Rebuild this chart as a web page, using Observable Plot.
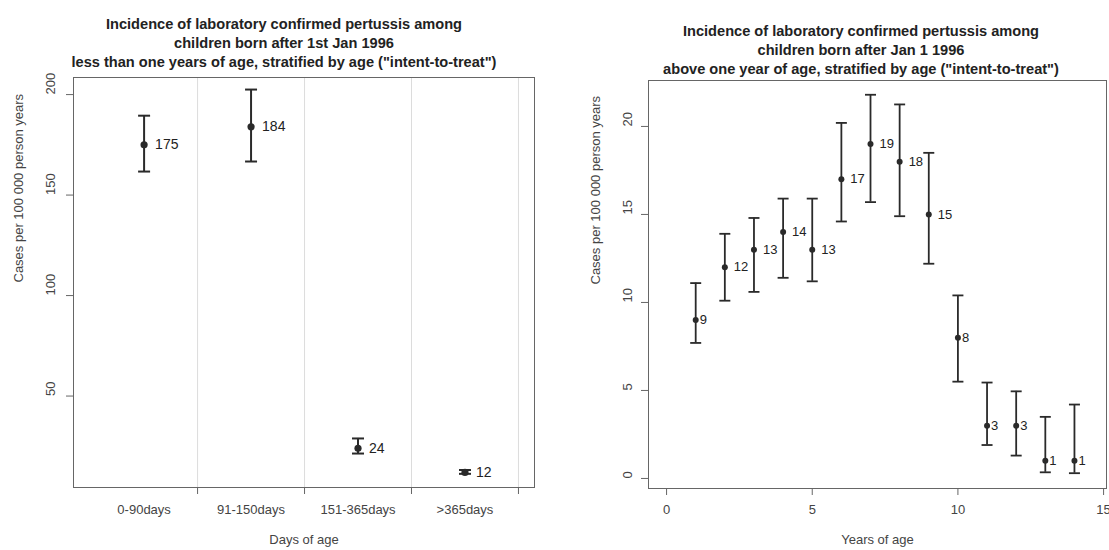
<!DOCTYPE html>
<html>
<head>
<meta charset="utf-8">
<script src="https://cdn.jsdelivr.net/npm/d3@7"></script>
<script src="https://cdn.jsdelivr.net/npm/@observablehq/plot@0.6"></script>
<style>
  html, body { margin: 0; padding: 0; background: #fff; overflow: hidden; }
  #wrap { position: relative; width: 1109px; height: 550px; font-family: "Liberation Sans", Arial, sans-serif; }
  .panel { position: absolute; top: 0; }
  .title { position: absolute; width: 600px; text-align: center; font-weight: bold; font-size: 14.6px; line-height: 19px; color: #222; }
</style>
</head>
<body>
<div id="wrap">
  <div class="panel" id="left" style="left:0px"></div>
  <div class="panel" id="right" style="left:555px"></div>
  <div class="title" id="t1" style="left:-16px; top:15px"></div>
  <div class="title" id="t2" style="left:561px; top:22px"></div>
</div>
<script>
// ---------- data: left panel (< 1 year, by days of age) ----------
const leftCats = ["0-90days", "91-150days", "151-365days", ">365days"];
const leftRate = [175, 184, 24, 12];
const leftLo   = [161.7, 166.7, 21.4, 11.3];
const leftHi   = [189.5, 202.5, 28.9, 13.2];
const leftYTicks = [50, 100, 150, 200];
const leftXTicks = [1, 2, 3, 4];

// ---------- data: right panel (> 1 year, by years of age) ----------
const rightAge  = [1, 2, 3, 4, 5, 6, 7, 8, 9, 10, 11, 12, 13, 14];
const rightRate = [9, 12, 13, 14, 13, 17, 19, 18, 15, 8, 3, 3, 1, 1];
const rightLo   = [7.7, 10.1, 10.6, 11.4, 11.2, 14.6, 15.7, 14.9, 12.2, 5.5, 1.9, 1.3, 0.35, 0.3];
const rightHi   = [11.1, 13.9, 14.8, 15.9, 15.9, 20.2, 21.8, 21.25, 18.5, 10.4, 5.45, 4.95, 3.5, 4.2];
const rightXTicks = [0, 5, 10, 15];
const rightYTicks = [0, 5, 10, 15, 20];

const titleLeft = ["Incidence of laboratory confirmed pertussis among",
  "children born after 1st Jan 1996",
  "less than one years of age, stratified by age (\"intent-to-treat\")"];
const titleRight = ["Incidence of laboratory confirmed pertussis among",
  "children born after Jan 1 1996",
  "above one year of age, stratified by age (\"intent-to-treat\")"];
const yLabel = "Cases per 100 000 person years";

document.getElementById("t1").innerHTML = titleLeft.map(s => s.replace(/&/g,"&amp;").replace(/</g,"&lt;")).join("<br>");
document.getElementById("t2").innerHTML = titleRight.map(s => s.replace(/&/g,"&amp;").replace(/</g,"&lt;")).join("<br>");

// horizontal cap symbol for error bars
const capSymbol = {
  draw(ctx, size) {
    const r = Math.sqrt(size / Math.PI);
    ctx.moveTo(-r, 0);
    ctx.lineTo(r, 0);
  }
};

const ink = "#2a2a2a";
const tickInk = "#444";

// ---------- left panel ----------
const L = leftCats.map((c, i) => ({cat: c, x: i + 0.5, rate: leftRate[i], lo: leftLo[i], hi: leftHi[i]}));
const leftPlot = Plot.plot({
  width: 555, height: 550,
  marginLeft: 73, marginRight: 21, marginTop: 77, marginBottom: 63,
  style: {fontFamily: "Liberation Sans, Arial, sans-serif", background: "transparent", overflow: "visible"},
  x: {type: "linear", domain: [-0.16, 4.15], axis: null},
  y: {type: "linear", domain: [4.5, 208.5], axis: null},
  marks: [
    Plot.ruleX(leftXTicks, {stroke: "#dcdcdc", strokeWidth: 1}),
    Plot.frame({stroke: "#666", strokeWidth: 1}),
    Plot.axisY({ticks: leftYTicks, tickSize: 7, tickFormat: () => "", stroke: "#666", label: null}),
    Plot.axisX({ticks: leftXTicks, tickSize: 7, tickFormat: () => "", stroke: "#666", label: null}),
    Plot.text(leftYTicks, {y: d => d, text: d => String(d), frameAnchor: "left", dx: -23, rotate: -90, fontSize: 13, fill: tickInk}),
    Plot.text(L, {x: "x", text: "cat", frameAnchor: "bottom", dy: 26, fontSize: 13, fill: tickInk}),
    Plot.text(["Days of age"], {frameAnchor: "bottom", dy: 56, fontSize: 13, fill: tickInk}),
    Plot.text([yLabel], {frameAnchor: "left", dx: -55, rotate: -90, fontSize: 13, fill: tickInk}),
    Plot.ruleX(L, {x: "x", y1: "lo", y2: "hi", stroke: ink, strokeWidth: 2}),
    Plot.dot(L, {x: "x", y: "lo", symbol: capSymbol, r: 6, stroke: ink, strokeWidth: 2, fill: "none"}),
    Plot.dot(L, {x: "x", y: "hi", symbol: capSymbol, r: 6, stroke: ink, strokeWidth: 2, fill: "none"}),
    Plot.dot(L, {x: "x", y: "rate", r: 3.6, fill: ink, stroke: "none"}),
    Plot.text(L, {x: "x", y: "rate", text: d => String(d.rate), textAnchor: "start", dx: 11, fontSize: 14, fill: "#222"})
  ]
});
document.getElementById("left").appendChild(leftPlot);

// ---------- right panel ----------
const R = rightAge.map((a, i) => ({age: a, rate: rightRate[i], lo: rightLo[i], hi: rightHi[i]}));
const rightPlot = Plot.plot({
  width: 554, height: 550,
  marginLeft: 93, marginRight: 3, marginTop: 80, marginBottom: 62,
  style: {fontFamily: "Liberation Sans, Arial, sans-serif", background: "transparent", overflow: "visible"},
  x: {type: "linear", domain: [-0.62, 15.1], axis: null},
  y: {type: "linear", domain: [-0.57, 22.61], axis: null},
  marks: [
    Plot.frame({stroke: "#666", strokeWidth: 1}),
    Plot.axisY({ticks: rightYTicks, tickSize: 7, tickFormat: () => "", stroke: "#666", label: null}),
    Plot.axisX({ticks: rightXTicks, tickSize: 7, tickFormat: () => "", stroke: "#666", label: null}),
    Plot.text(rightYTicks, {y: d => d, text: d => String(d), frameAnchor: "left", dx: -21, rotate: -90, fontSize: 13, fill: tickInk}),
    Plot.text(rightXTicks, {x: d => d, text: d => String(d), frameAnchor: "bottom", dy: 25, fontSize: 13, fill: tickInk}),
    Plot.text(["Years of age"], {frameAnchor: "bottom", dy: 55, fontSize: 13, fill: tickInk}),
    Plot.text([yLabel], {frameAnchor: "left", dx: -53, rotate: -90, fontSize: 13, fill: tickInk}),
    Plot.ruleX(R, {x: "age", y1: "lo", y2: "hi", stroke: ink, strokeWidth: 1.8}),
    Plot.dot(R, {x: "age", y: "lo", symbol: capSymbol, r: 5.5, stroke: ink, strokeWidth: 1.8, fill: "none"}),
    Plot.dot(R, {x: "age", y: "hi", symbol: capSymbol, r: 5.5, stroke: ink, strokeWidth: 1.8, fill: "none"}),
    Plot.dot(R, {x: "age", y: "rate", r: 3, fill: ink, stroke: "none"}),
    Plot.text(R.filter(d => String(d.rate).length === 1), {x: "age", y: "rate", text: d => String(d.rate), textAnchor: "start", dx: 4, fontSize: 13, fill: "#222"}),
    Plot.text(R.filter(d => String(d.rate).length > 1), {x: "age", y: "rate", text: d => String(d.rate), textAnchor: "start", dx: 9, fontSize: 13, fill: "#222"})
  ]
});
document.getElementById("right").appendChild(rightPlot);
</script>
</body>
</html>
